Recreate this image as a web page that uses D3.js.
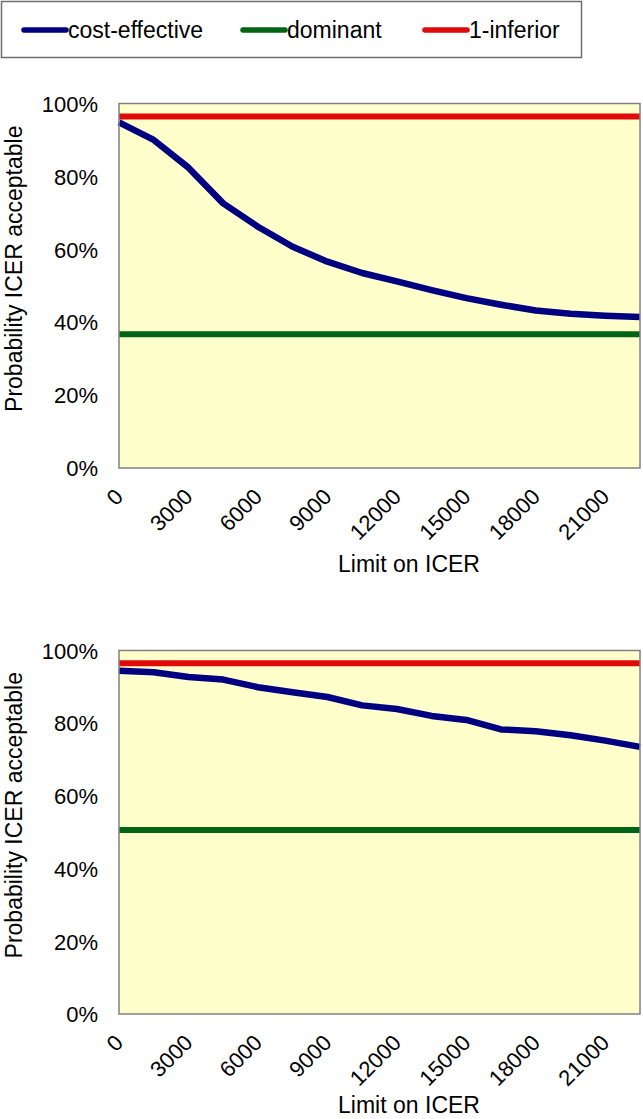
<!DOCTYPE html>
<html><head><meta charset="utf-8">
<script src="https://cdn.jsdelivr.net/npm/d3@7"></script>
<style>
body{margin:0;background:#fff}
svg{display:block}
text{font-family:"Liberation Sans",Arial,sans-serif;fill:#000}
</style>
</head><body>
<svg id="c" width="643" height="1119"></svg>
<script>
// ---- data ----
const limits = [0,1500,3000,4500,6000,7500,9000,10500,12000,13500,15000,16500,18000,19500,21000,22500];
const xTickLabels = [0,3000,6000,9000,12000,15000,18000,21000];
const yTickValues = [0,0.2,0.4,0.6,0.8,1];
const seriesNames = ["cost-effective","dominant","1-inferior"];
const seriesColors = ["#000080","#006414","#e00a0a"];

const costEffectiveTop = [0.948,0.900,0.824,0.726,0.662,0.607,0.566,0.535,0.512,0.488,0.466,0.448,0.432,0.423,0.418,0.414];
const dominantTop = 0.367;
const oneMinusInferiorTop = 0.964;

const costEffectiveBottom = [0.944,0.940,0.927,0.920,0.899,0.885,0.872,0.849,0.839,0.820,0.809,0.783,0.778,0.767,0.752,0.735];
const dominantBottom = 0.506;
const oneMinusInferiorBottom = 0.965;

// ---- layout ----
const svg = d3.select("#c");
const L = 119, R = 640;
const panels = [
  {ce: costEffectiveTop, dom: dominantTop, inf: oneMinusInferiorTop, top: 103.5, bottom: 468},
  {ce: costEffectiveBottom, dom: dominantBottom, inf: oneMinusInferiorBottom, top: 650.5, bottom: 1014}
];

const x = d3.scalePoint().domain(limits).range([L, R]).padding(0);

panels.forEach(p => {
  const y = d3.scaleLinear().domain([0,1]).range([p.bottom, p.top]);
  const g = svg.append("g");
  g.append("rect").attr("x", L).attr("y", p.top).attr("width", R-L).attr("height", p.bottom-p.top)
    .attr("fill", "#ffffcc");

  const line = d3.line().x((d,i) => x(limits[i])).y(d => y(d));
  // dominant
  g.append("line").attr("x1", x(limits[0])).attr("x2", x(limits[limits.length-1]))
    .attr("y1", y(p.dom)).attr("y2", y(p.dom))
    .attr("stroke", seriesColors[1]).attr("stroke-width", 6);
  // 1-inferior
  g.append("line").attr("x1", x(limits[0])).attr("x2", x(limits[limits.length-1]))
    .attr("y1", y(p.inf)).attr("y2", y(p.inf))
    .attr("stroke", seriesColors[2]).attr("stroke-width", 6);
  // cost-effective
  g.append("path").datum(p.ce).attr("d", line).attr("fill", "none")
    .attr("stroke", seriesColors[0]).attr("stroke-width", 6.5).attr("stroke-linejoin", "round");

  g.append("rect").attr("x", L).attr("y", p.top).attr("width", R-L).attr("height", p.bottom-p.top)
    .attr("fill", "none").attr("stroke", "#808080").attr("stroke-width", 1.5);

  // y axis
  const ya = d3.axisLeft(y).tickValues(yTickValues).tickSize(0).tickPadding(0)
    .tickFormat(d3.format(".0%"));
  const yg = g.append("g").attr("transform", `translate(${L-21},0)`).call(ya);
  yg.select(".domain").remove();
  yg.selectAll("text").attr("font-size", 22).attr("font-family", "Liberation Sans, Arial, sans-serif")
    .attr("fill", "#000").attr("dy", "0.35em").attr("x", 0);

  // x axis
  const xa = d3.axisBottom(x).tickValues(xTickLabels).tickSize(0).tickFormat(d => String(d));
  const xg = g.append("g").attr("transform", `translate(0,${p.bottom})`).call(xa);
  xg.select(".domain").remove();
  xg.selectAll("text").attr("font-size", 22).attr("font-family", "Liberation Sans, Arial, sans-serif")
    .attr("fill", "#000").attr("text-anchor", "end").attr("dy", 0).attr("y", 0)
    .attr("transform", "translate(5,30) rotate(-45)");

  // titles
  g.append("text").attr("x", 409).attr("y", Math.min(p.bottom + 104, 1113)).attr("text-anchor", "middle")
    .attr("font-size", 23).text("Limit on ICER");
  const cy = (p.top + p.bottom)/2 - 17;
  g.append("text").attr("transform", `translate(22,${cy}) rotate(-90)`).attr("text-anchor", "middle")
    .attr("font-size", 23).text("Probability ICER acceptable");
});

// ---- legend ----
const lg = svg.append("g");
lg.append("rect").attr("x", 1.5).attr("y", 1.5).attr("width", 580).attr("height", 56)
  .attr("fill", "#fff").attr("stroke", "#6e6e6e").attr("stroke-width", 1.5);
const legendX = [22, 241, 423];
seriesNames.forEach((n, i) => {
  lg.append("line").attr("x1", legendX[i]+2).attr("x2", legendX[i]+44).attr("y1", 30).attr("y2", 30)
    .attr("stroke", seriesColors[i]).attr("stroke-width", 5.5).attr("stroke-linecap", "round");
  lg.append("text").attr("x", legendX[i]+46).attr("y", 37.5).attr("font-size", 23).text(n);
});
</script>
</body></html>
